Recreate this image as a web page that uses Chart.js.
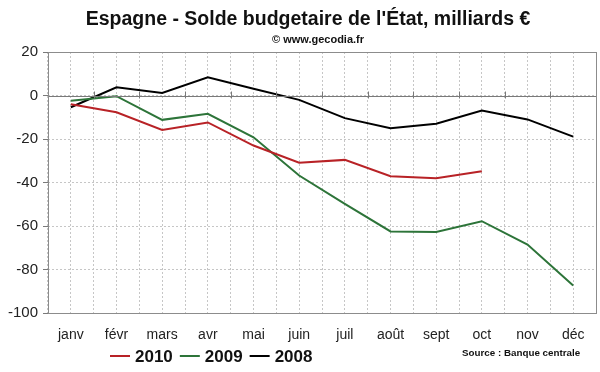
<!DOCTYPE html>
<html>
<head>
<meta charset="utf-8">
<script src="https://cdn.jsdelivr.net/npm/chart.js@4.4.1/dist/chart.umd.min.js"></script>
<style>
  html, body { margin: 0; padding: 0; background: #fff; }
</style>
</head>
<body>
<canvas id="line-chart" width="600" height="372"></canvas>
<script>
const months = ["janv", "févr", "mars", "avr", "mai", "juin", "juil", "août", "sept", "oct", "nov", "déc"];
const solde2010 = [-4, -7.7, -15.8, -12.4, -23, -30.9, -29.6, -37.1, -38, -34.8, null, null];
const solde2009 = [-2.4, -0.3, -11.2, -8.4, -19.2, -36.8, -49.8, -62.5, -62.8, -57.8, -68.5, -87.4];
const solde2008 = [-5.4, 3.8, 1.2, 8.4, 3.1, -2, -10.4, -15, -13, -6.9, -11, -18.9];
const yTicks = [20, 0, -20, -40, -60, -80, -100];

const FONT = "'Liberation Sans', Arial, sans-serif";
const GRID = "#c6c6c6";

// titles, frame, zero line and legend drawn on top of the chart
const decor = {
  id: "decor",
  afterDatasetsDraw(chart) {
    const ctx = chart.ctx;
    const a = chart.chartArea;
    const x = chart.scales.x;
    const y = chart.scales.y;
    ctx.save();

    // zero axis with crossing ticks at category boundaries
    const y0 = Math.round(y.getPixelForValue(0)) + 0.5;
    const step = x.getPixelForValue(1) - x.getPixelForValue(0);
    ctx.strokeStyle = "#7a7a7a";
    ctx.lineWidth = 1;
    ctx.beginPath();
    ctx.moveTo(a.left, y0);
    ctx.lineTo(a.right, y0);
    for (let i = 1; i < months.length; i++) {
      const px = Math.round(x.getPixelForValue(i) - step / 2) + 0.5;
      ctx.moveTo(px, y0 - 5);
      ctx.lineTo(px, y0 + 2);
    }
    ctx.stroke();

    // frame
    ctx.strokeStyle = "#8c8c8c";
    ctx.strokeRect(Math.round(a.left) + 0.5, Math.round(a.top) + 0.5, Math.round(a.right - a.left), Math.round(a.bottom - a.top));
    ctx.restore();
  },
  afterDraw(chart) {
    const ctx = chart.ctx;
    ctx.save();
    ctx.fillStyle = "#111";
    ctx.textAlign = "center";
    ctx.textBaseline = "middle";
    ctx.font = "bold 19.5px " + FONT;
    ctx.fillText("Espagne - Solde budgetaire de l'État, milliards €", 308, 20);
    ctx.font = "bold 11px " + FONT;
    ctx.fillText("© www.gecodia.fr", 318, 40);

    // legend
    let lx = 110;
    const ly = 356;
    ctx.textAlign = "left";
    ctx.font = "bold 17px " + FONT;
    chart.data.datasets.forEach(ds => {
      ctx.strokeStyle = ds.borderColor;
      ctx.lineWidth = 2;
      ctx.beginPath();
      ctx.moveTo(lx, ly);
      ctx.lineTo(lx + 20, ly);
      ctx.stroke();
      ctx.fillStyle = "#111";
      ctx.fillText(ds.label, lx + 25, ly + 1);
      lx += 25 + ctx.measureText(ds.label).width + 7;
    });

    ctx.font = "bold 9.8px " + FONT;
    ctx.fillText("Source : Banque centrale", 462, 353);
    ctx.restore();
  }
};

new Chart(document.getElementById("line-chart"), {
  type: "line",
  data: {
    labels: months,
    datasets: [
      { label: "2010", data: solde2010, borderColor: "#b82226" },
      { label: "2009", data: solde2009, borderColor: "#2d7439" },
      { label: "2008", data: solde2008, borderColor: "#000000" }
    ]
  },
  options: {
    responsive: false,
    animation: false,
    devicePixelRatio: 1,
    layout: { padding: { top: 52, right: 4, left: 0, bottom: 0 } },
    elements: {
      line: { borderWidth: 2, tension: 0, fill: false },
      point: { radius: 0 }
    },
    plugins: {
      legend: { display: false },
      title: { display: false },
      tooltip: { enabled: false }
    },
    scales: {
      x: {
        offset: true,
        afterFit(scale) { scale.height = 59; },
        grid: { offset: false, color: GRID, drawTicks: false },
        border: { display: false, dash: [2, 2] },
        ticks: { color: "#222", padding: 14, autoSkip: false, font: { family: FONT, size: 14 }, maxRotation: 0 }
      },
      x2: {
        position: "top",
        offset: true,
        labels: months,
        afterFit(scale) { scale.height = 0; },
        grid: { offset: true, color: GRID, drawTicks: false },
        border: { display: false, dash: [2, 2] },
        ticks: { display: false }
      },
      y: {
        min: -100,
        max: 20,
        afterFit(scale) { scale.width = 48; },
        afterBuildTicks(scale) { scale.ticks = yTicks.map(v => ({ value: v })); },
        grid: { color: GRID, tickLength: 5, tickColor: "#7a7a7a", tickBorderDash: [] },
        border: { display: false, dash: [2, 2] },
        ticks: { color: "#222", padding: 5, font: { family: FONT, size: 15 } }
      }
    }
  },
  plugins: [decor]
});
</script>
</body>
</html>
